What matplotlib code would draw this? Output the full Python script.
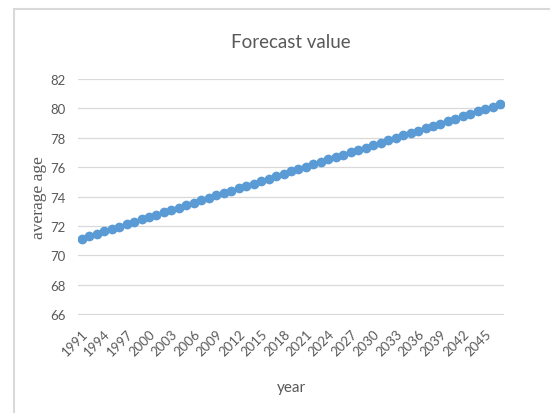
#!/usr/bin/env python
# plot.py - Excel-style line chart of the forecast average age, 1991-2047.
import numpy as np
import matplotlib
matplotlib.use("Agg")
import matplotlib.pyplot as plt
from matplotlib.patches import Rectangle

years = list(range(1991, 2048))
avg_age = [
    71.14, 71.30, 71.47, 71.63, 71.79, 71.96, 72.12, 72.28, 72.45, 72.61,
    72.77, 72.94, 73.10, 73.26, 73.42, 73.59, 73.75, 73.91, 74.08, 74.24,
    74.40, 74.57, 74.73, 74.89, 75.06, 75.22, 75.38, 75.55, 75.71, 75.87,
    76.04, 76.20, 76.36, 76.53, 76.69, 76.85, 77.02, 77.18, 77.34, 77.51,
    77.67, 77.83, 78.00, 78.16, 78.32, 78.48, 78.65, 78.81, 78.97, 79.14,
    79.30, 79.46, 79.63, 79.79, 79.95, 80.12, 80.28,
]
y_ticks = [66, 68, 70, 72, 74, 76, 78, 80, 82]

BLUE = "#5B9BD5"
GREY = "#595959"
GRID = "#D9D9D9"

plt.rcParams["font.family"] = ["Lato", "DejaVu Sans"]

fig = plt.figure(figsize=(5.5, 4.14), dpi=100)
# chart area border (Excel style, runs off the right/bottom edge)
fig.patches.append(Rectangle((14 / 550, -0.1), 1.2, 1 - 10 / 414 + 0.1,
                             transform=fig.transFigure, fill=False,
                             edgecolor=GRID, linewidth=1.5))

ax = fig.add_axes([78 / 550, 1 - 316 / 414, 426 / 550, 236 / 414])
idx = np.arange(len(years))
ax.plot(idx, avg_age, color=BLUE, linewidth=2.2, marker="o", markersize=6,
        markeredgecolor=BLUE, markerfacecolor=BLUE)

ax.set_xlim(-0.5, len(years) - 0.5)
ax.set_ylim(65.95, 82)
ax.set_yticks(y_ticks)
ax.set_xticks(idx[::3])
ax.set_xticklabels([str(y) for y in years[::3]], rotation=45, ha="right",
                   rotation_mode="anchor")
for s in ax.spines.values():
    s.set_visible(False)
ax.grid(True, axis="y", color=GRID, linewidth=0.9)
ax.set_axisbelow(True)
ax.tick_params(axis="both", length=0, colors=GREY, labelsize=9.5)
ax.tick_params(axis="y", pad=9)
ax.tick_params(axis="x", pad=9)

ax.set_title("Forecast value", fontsize=13.5, color=GREY, pad=23)
ax.set_xlabel("year", fontsize=11, color=GREY, labelpad=16)
ax.set_ylabel("average age", fontsize=12.5, color=GREY, family="Liberation Serif",
              labelpad=2)

fig.savefig("out.png", dpi=100)
